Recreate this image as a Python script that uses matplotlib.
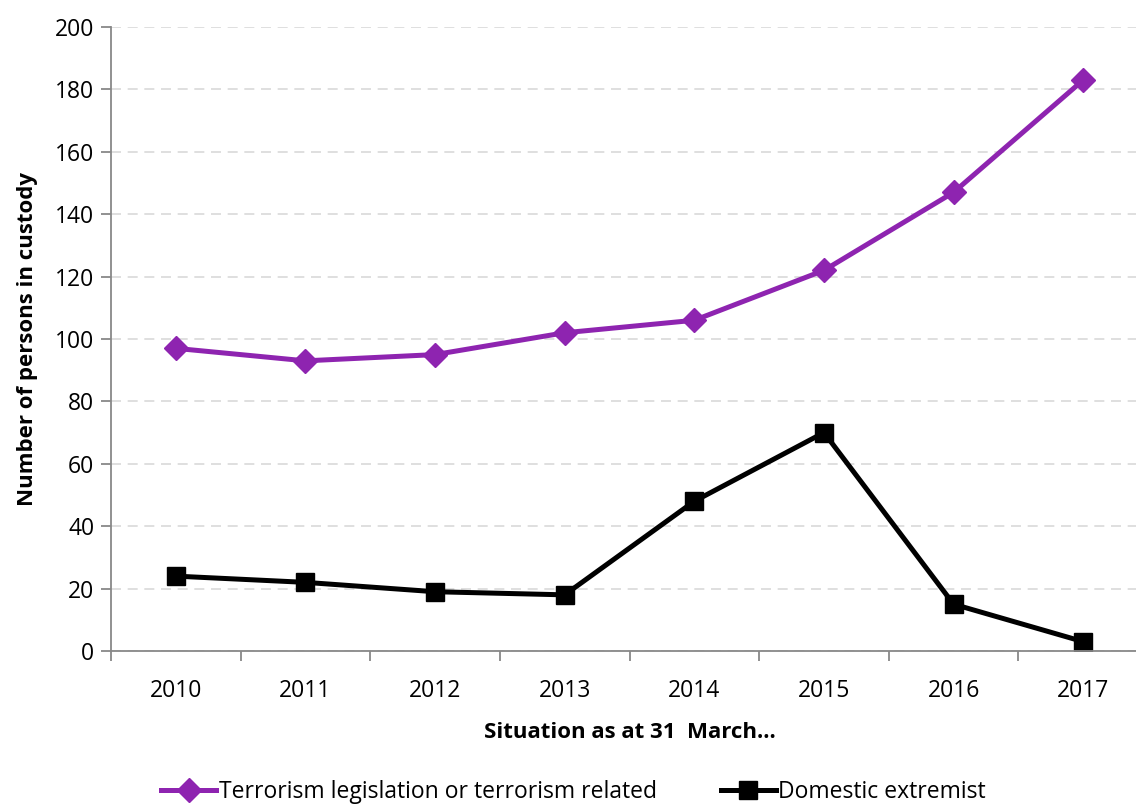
import matplotlib
matplotlib.use("Agg")
import matplotlib.pyplot as plt
import numpy as np

years = ["2010", "2011", "2012", "2013", "2014", "2015", "2016", "2017"]
terrorism = [97, 93, 95, 102, 106, 122, 147, 183]
domestic = [24, 22, 19, 18, 48, 70, 15, 3]

plt.rcParams['font.family'] = ['Open Sans', 'DejaVu Sans']

fig = plt.figure(figsize=(11.36, 8.08), dpi=100)
ax = fig.add_axes([0.0977, 0.1943, 0.9129, 0.7723])

x = np.arange(len(years))
ax.plot(x, terrorism, '-D', color='#8E24B0', lw=3.6, markersize=12,
        label='Terrorism legislation or terrorism related')
ax.plot(x, domestic, '-s', color='black', lw=3.6, markersize=13,
        label='Domestic extremist')

ax.set_xlim(-0.5, 7.5)
ax.set_ylim(0, 200)
ax.set_yticks(range(0, 201, 20))
ax.yaxis.grid(True, color='#D9D9D9', linestyle=(0, (6, 4)), lw=1.2)
ax.set_axisbelow(True)

ax.set_xticks(np.arange(-0.5, 8, 1))
ax.set_xticklabels([])
ax.set_xticks(x, minor=True)
ax.set_xticklabels(years, minor=True)
ax.tick_params(axis='x', which='minor', length=0, pad=20, labelsize=16.5)
ax.tick_params(axis='x', which='major', length=7, color='#888888', width=1.3)
ax.tick_params(axis='y', length=7, color='#888888', width=1.3, labelsize=16.5, pad=5)

for s in ['top', 'right']:
    ax.spines[s].set_visible(False)
for s in ['left', 'bottom']:
    ax.spines[s].set_color('#888888')
    ax.spines[s].set_linewidth(1.3)

ax.set_xlabel('Situation as at 31  March...', fontsize=16, fontweight='bold', labelpad=14)
ax.set_ylabel('Number of persons in custody', fontsize=16, fontweight='bold', labelpad=12)

fig.legend(loc='center', bbox_to_anchor=(0.505, 0.02), ncol=2, frameon=False,
           fontsize=16.5, handlelength=2.4, handletextpad=0.1, columnspacing=2.8)

fig.savefig('out.png', dpi=100)
